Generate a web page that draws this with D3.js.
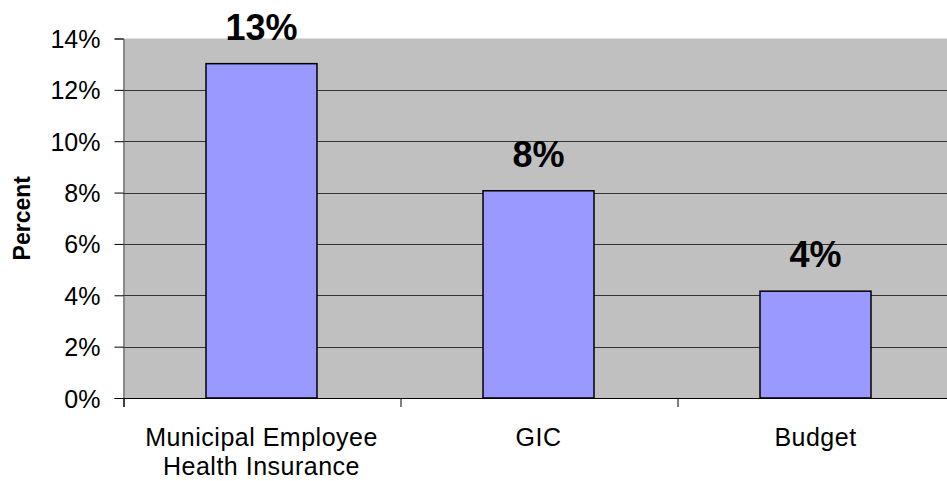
<!DOCTYPE html>
<html><head><meta charset="utf-8">
<script src="https://cdn.jsdelivr.net/npm/d3@7"></script>
<style>body{margin:0;background:#fff;} svg{display:block;font-family:"Liberation Sans",Arial,sans-serif;}</style>
</head><body>
<script>
const categories = [["Municipal Employee","Health Insurance"],["GIC"],["Budget"]];
const values = [13.02, 8.07, 4.16];
const valueLabels = ["13%","8%","4%"];
const yTicks = [0,2,4,6,8,10,12,14];

const W = 947, H = 481;
const m = {left:123, top:38.5, right:-7, bottom:83};
const svg = d3.select("body").append("svg").attr("width",W).attr("height",H);
const x = d3.scaleBand().domain(d3.range(categories.length)).range([m.left, W - m.right]).paddingInner(0).paddingOuter(0);
const y = d3.scaleLinear().domain([0,14]).range([H - m.bottom, m.top]);

svg.append("rect").attr("x",m.left).attr("y",y(14)).attr("width",W-m.right-m.left).attr("height",y(0)-y(14)).attr("fill","#c0c0c0");

// gridlines
svg.append("g").selectAll("line").data(yTicks.filter(d=>d>0 && d<14)).join("line")
  .attr("x1",m.left).attr("x2",W).attr("y1",d=>Math.round(y(d))+0.5).attr("y2",d=>Math.round(y(d))+0.5)
  .attr("stroke","#333").attr("stroke-width",1);

// bars
const bw = 111;
svg.append("g").selectAll("rect").data(values).join("rect")
  .attr("x",(d,i)=>x(i)+x.bandwidth()/2-bw/2).attr("width",bw)
  .attr("y",d=>y(d)).attr("height",d=>y(0)-y(d))
  .attr("fill","#9999ff").attr("stroke","#000").attr("stroke-width",1.5);

// value labels
svg.append("g").selectAll("text").data(values).join("text")
  .attr("x",(d,i)=>x(i)+x.bandwidth()/2).attr("y",d=>y(d)-24)
  .attr("text-anchor","middle").attr("font-weight","bold").style("font-size","36px")
  .text((d,i)=>valueLabels[i]);

// y axis
const ya = d3.axisLeft(y).tickValues(yTicks).tickFormat(d=>d+"%").tickSize(9).tickPadding(14);
const gy = svg.append("g").attr("transform",`translate(${m.left+0.5},0)`).call(ya);
gy.attr("font-size",null).attr("font-family",null);
gy.select(".domain").attr("stroke","#555");
gy.selectAll(".tick line").attr("stroke","#000");
gy.selectAll("text").style("font-size","25px").attr("fill","#000").attr("dy","0.36em");

// x axis
const xa = d3.axisBottom(d3.scaleLinear().domain([0,3]).range([m.left, m.left+3*x.bandwidth()])).tickValues([0,1,2,3]).tickSize(9).tickFormat("");
const gx = svg.append("g").attr("transform",`translate(0.5,${y(0)})`).call(xa);
gx.select(".domain").attr("stroke","#000");
gx.selectAll(".tick line").attr("stroke","#000");

// category labels
const cl = svg.append("g").selectAll("text").data(categories).join("text")
  .attr("x",(d,i)=>x(i)+x.bandwidth()/2).attr("y",446)
  .attr("text-anchor","middle").style("font-size","25px").style("letter-spacing","0.5px").attr("fill","#000");
cl.each(function(d){
  d3.select(this).selectAll("tspan").data(d).join("tspan")
    .attr("x",d3.select(this).attr("x")).attr("dy",(t,j)=>j===0?0:29).text(t=>t);
});

// y title
svg.append("text").attr("transform",`translate(30,${(y(0)+y(14))/2}) rotate(-90)`)
  .attr("text-anchor","middle").attr("font-weight","bold").style("font-size","23px").text("Percent");
</script>
</body></html>
